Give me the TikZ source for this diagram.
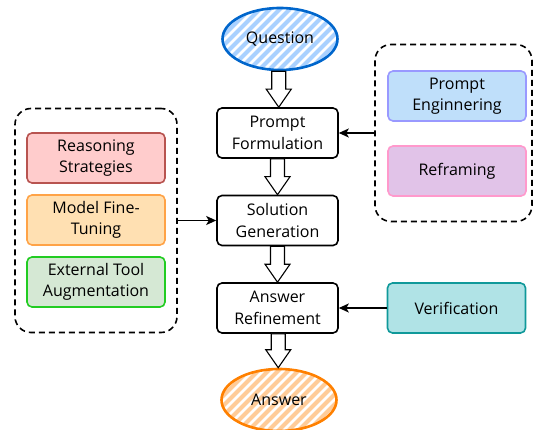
\documentclass[tikz,border=0pt]{standalone}
\usepackage{fontspec}
\setmainfont{Open Sans}
\usetikzlibrary{arrows.meta,shapes.geometric,calc}

\definecolor{qblue}{HTML}{0066CC}
\definecolor{qstripe}{HTML}{A9D1FF}
\definecolor{aorange}{HTML}{FF8000}
\definecolor{astripe}{HTML}{FFCC99}
\definecolor{stratfill}{HTML}{FFCCCC}
\definecolor{stratline}{HTML}{B85450}
\definecolor{tunefill}{HTML}{FFE0B2}
\definecolor{tuneline}{HTML}{FFA347}
\definecolor{toolfill}{HTML}{D5E8D4}
\definecolor{toolline}{HTML}{22CC22}
\definecolor{engfill}{HTML}{BFDFFA}
\definecolor{engline}{HTML}{9999FF}
\definecolor{framefill}{HTML}{E1C3E8}
\definecolor{frameline}{HTML}{FF99CC}
\definecolor{verifill}{HTML}{B0E3E6}
\definecolor{veriline}{HTML}{10999A}

% wide hollow arrow between two stacked nodes
\newcommand{\hollowlink}[2]{%
  \draw[hollow] let \p1=(#1.south), \p2=(#2.north),
      \p3=($(#1.south)!.5!(#2.north)$) in
    (\x3-7pt,\y1) -- (\x3-7pt,\y2+18pt) -- (\x3-12.5pt,\y2+18pt)
    -- (\x3,\y2) -- (\x3+12.5pt,\y2+18pt) -- (\x3+7pt,\y2+18pt)
    -- (\x3+7pt,\y1) -- cycle;}

\begin{document}
\begin{tikzpicture}[x=1pt,y=-1pt,
  every node/.style={font=\fontsize{16}{21.5}\selectfont, align=center},
  stage/.style={draw, line width=1.6pt, rounded corners=5pt, fill=white,
    minimum width=121pt, minimum height=50pt, inner sep=0pt},
  tech/.style={line width=1.6pt, rounded corners=5pt,
    minimum width=138pt, minimum height=50pt, inner sep=0pt},
  group/.style={draw, line width=1.6pt, dash pattern=on 6pt off 4pt,
    rounded corners=16pt, inner sep=0pt},
  feed/.style={line width=1.6pt, -{Stealth[length=10pt,width=9pt,inset=2.5pt]}},
  hollow/.style={line width=1.1pt, fill=white, line join=miter},
  endpoint/.style={ellipse, line width=2.6pt, inner sep=0pt,
    minimum width=115pt, minimum height=62pt},
  hatched/.style={path picture={
    \foreach \k in {-10,...,10}
      \draw[#1, line width=4pt]
        ($(path picture bounding box.center)+(\k*10-40,40)$) -- ++(80,-80);}},
]
\useasboundingbox (0,0) rectangle (535,430);

% 1. Start and end
\node[endpoint, draw=qblue, hatched=qstripe] (question) at (280,39) {Question};
\node[endpoint, draw=aorange, hatched=astripe] (answer) at (279,400) {Answer};

% 2. Main stages
\node[stage] (formulation) at (277.5,133) {Prompt\\Formulation};
\node[stage] (generation) at (277.5,220.5) {Solution\\Generation};
\node[stage] (refinement) at (277.5,308) {Answer\\Refinement};

% 3. Hollow arrows down the middle
\hollowlink{question}{formulation}
\hollowlink{formulation}{generation}
\hollowlink{generation}{refinement}
\hollowlink{refinement}{answer}

% 4. Left group (generation techniques)
\node[group, minimum width=162pt, minimum height=224pt] (leftgroup) at (96,220.5) {};
\node[tech, draw=stratline, fill=stratfill] (strategies) at (96,158) {Reasoning\\Strategies};
\node[tech, draw=tuneline, fill=tunefill] (finetuning) at (96,220) {Model Fine-\\Tuning};
\node[tech, draw=toolline, fill=toolfill] (tools) at (96,282) {External Tool\\Augmentation};

% 5. Right group (formulation techniques)
\node[group, minimum width=157pt, minimum height=177pt] (rightgroup) at (453.5,133) {};
\node[tech, draw=engline, fill=engfill] (engineering) at (457,96) {Prompt\\Enginnering};
\node[tech, draw=frameline, fill=framefill] (reframing) at (457,171) {Reframing};

% 6. Verification
\node[tech, draw=veriline, fill=verifill] (verification) at (456.5,308) {Verification};

% 7. Feeding arrows
\draw[feed] (rightgroup.west) -- (formulation.east);
\draw[feed] (leftgroup.east) -- (generation.west);
\draw[feed] (verification.west) -- (refinement.east);

\end{tikzpicture}
\end{document}
